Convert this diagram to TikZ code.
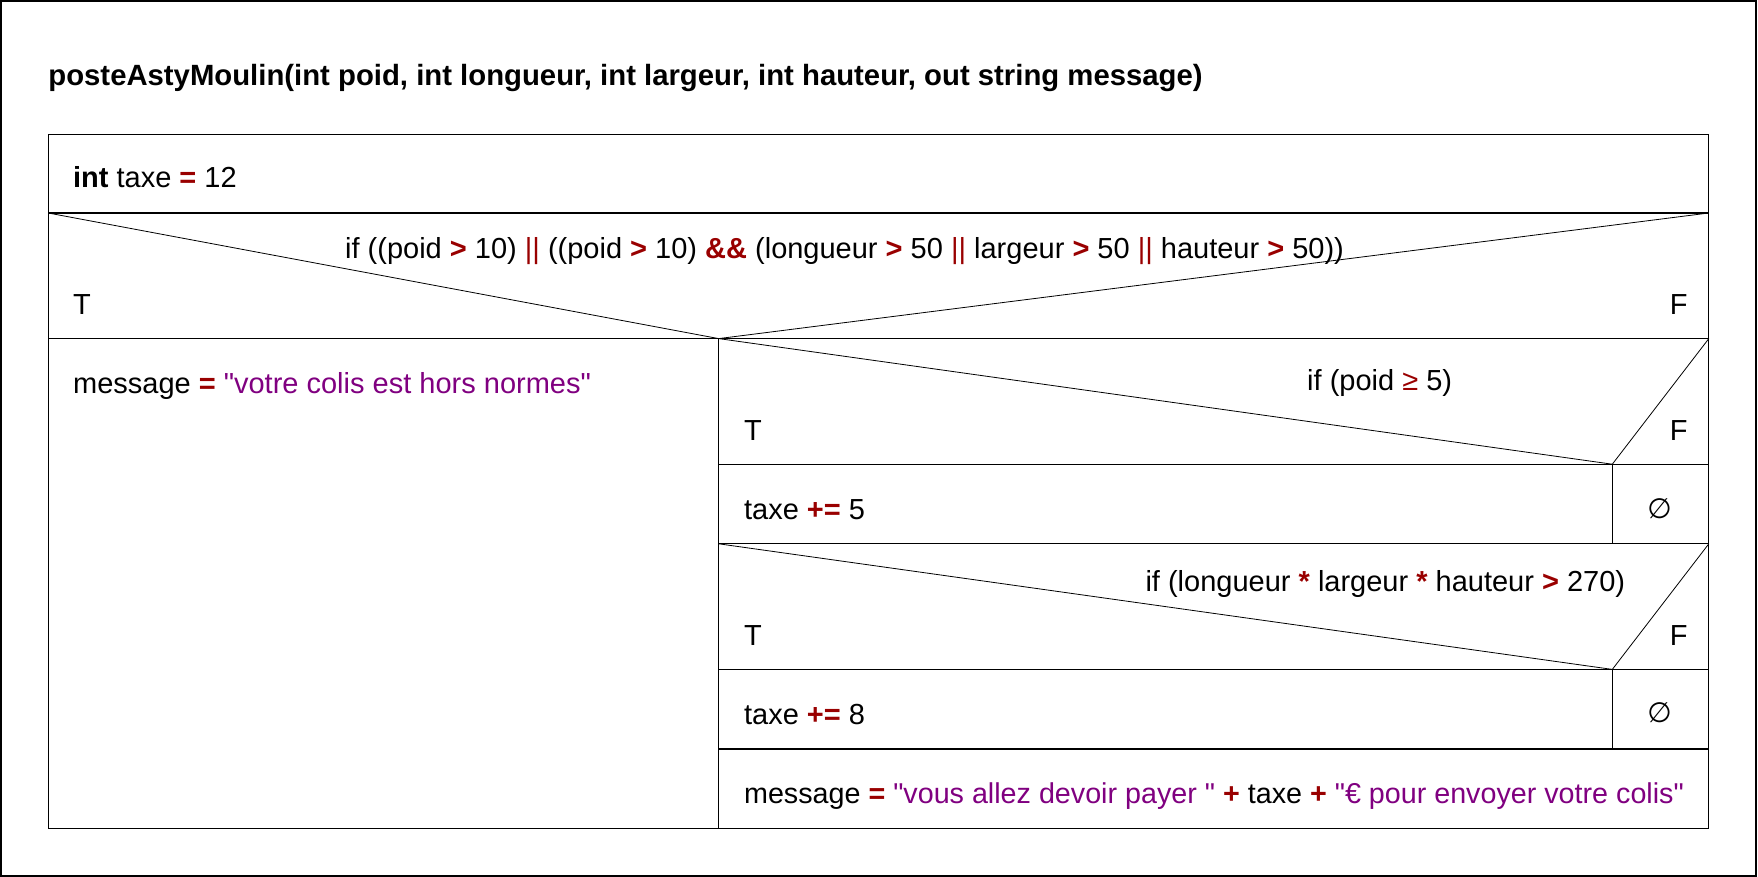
\documentclass[tikz,border=0pt]{standalone}
\usepackage{fontspec}
\setmainfont{Liberation Sans}[Ligatures=TeXOff]
\newfontfamily\symfont{DejaVu Sans}
\definecolor{opcol}{RGB}{153,0,0}
\definecolor{strcol}{RGB}{128,0,128}
\newcommand{\opr}[1]{\textcolor{opcol}{\textbf{#1}}}
\newcommand{\strv}[1]{\textcolor{strcol}{#1}}
\begin{document}
\begin{tikzpicture}[x=1pt,y=-1pt,
  boxline/.style={line width=1.3pt},
  diagline/.style={line width=0.8pt},
  txt/.style={anchor=base west, inner sep=0pt, font=\fontsize{29}{34}\selectfont},
  sym/.style={anchor=center, inner sep=0pt, font=\fontsize{28}{32}\symfont}]
\useasboundingbox (0,0) rectangle (1758,877);
\draw[line width=1.5pt] (1,1) rectangle (1756,876);
% grid coordinates
\def\xL{48.2}\def\xR{1708.8}\def\xM{718.7}\def\xD{1612.3}
\coordinate (tl) at (\xL,134.5);
\coordinate (br) at (\xR,828.6);
\coordinate (a1) at (\xL,213);   \coordinate (b1) at (\xR,213);
\coordinate (a2) at (\xL,338.6); \coordinate (b2) at (\xR,338.6);
\coordinate (m2) at (\xM,338.6); \coordinate (m7) at (\xM,828.6);
\coordinate (m3) at (\xM,464.2); \coordinate (b3) at (\xR,464.2); \coordinate (d3) at (\xD,464.2);
\coordinate (m4) at (\xM,543.8); \coordinate (b4) at (\xR,543.8); \coordinate (d4) at (\xD,543.8);
\coordinate (m5) at (\xM,669.4); \coordinate (b5) at (\xR,669.4); \coordinate (d5) at (\xD,669.4);
\coordinate (m6) at (\xM,749);   \coordinate (b6) at (\xR,749);   \coordinate (d6) at (\xD,749);
% boxes
\draw[boxline] (tl) rectangle (br);
\draw[boxline] (a1) -- (b1);
\draw[boxline] (a2) -- (b2);
\draw[boxline] (m2) -- (m7);
\draw[boxline] (m3) -- (b3);
\draw[boxline] (m4) -- (b4);
\draw[boxline] (m5) -- (b5);
\draw[boxline] (m6) -- (b6);
\draw[diagline] (d3) -- (d4);
\draw[diagline] (d5) -- (d6);
% diagonals
\draw[diagline] (a1) -- (m2) -- (b1);
\draw[diagline] (m2) -- (d3) -- (b2);
\draw[diagline] (m4) -- (d5) -- (b4);
% texts
\node[txt, font=\fontsize{29.3}{34}\selectfont\bfseries] (title) at (48.2,86) {posteAstyMoulin(int poid, int longueur, int largeur, int hauteur, out string message)};
\node[txt] (decl) at (72.9,188) {\textbf{int} taxe \opr{=} 12};
\node[txt] (if1) at (345,259) {if ((poid \opr{>} 10) \textcolor{opcol}{||} ((poid \opr{>} 10) \opr{\&\&} (longueur \opr{>} 50 \textcolor{opcol}{||} largeur \opr{>} 50 \textcolor{opcol}{||} hauteur \opr{>} 50))};
\node[txt] (t1) at (72.9,314) {T};
\node[txt] (f1) at (1669.6,314) {F};
\node[txt] (msg1) at (72.9,393) {message \opr{=} \strv{"votre colis est hors normes"}};
\node[txt] (if2) at (1307,390.7) {if (poid \textcolor{opcol}{≥} 5)};
\node[txt] (t2) at (743.9,440.7) {T};
\node[txt] (f2) at (1669.6,440.7) {F};
\node[txt] (tax5) at (743.9,519.3) {taxe \opr{+=} 5};
\node[sym] (e1) at (1659.5,509) {∅};
\node[txt] (if3) at (1145.3,591.7) {if (longueur \opr{*} largeur \opr{*} hauteur \opr{>} 270)};
\node[txt] (t3) at (743.9,645) {T};
\node[txt] (f3) at (1669.6,645) {F};
\node[txt] (tax8) at (743.9,724.3) {taxe \opr{+=} 8};
\node[sym] (e2) at (1659.5,713) {∅};
\node[txt, font=\fontsize{28.7}{34}\selectfont] (msg2) at (743.9,803) {message \opr{=} \strv{"vous allez devoir payer "} \opr{+} taxe \opr{+} \strv{"€ pour envoyer votre colis"}};
\end{tikzpicture}
\end{document}
